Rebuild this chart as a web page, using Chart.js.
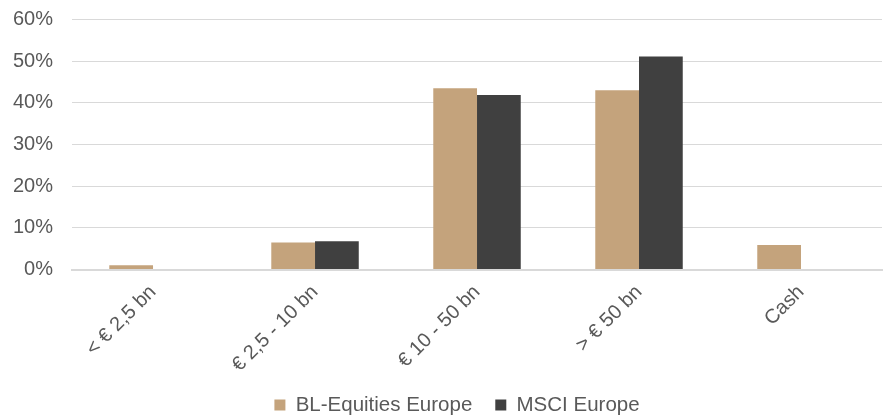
<!DOCTYPE html>
<html>
<head>
<meta charset="utf-8">
<script src="https://cdn.jsdelivr.net/npm/chart.js@4"></script>
<style>
  html, body { margin: 0; padding: 0; background: #fff; }
  #wrap { width: 883px; height: 418px; position: relative; }
</style>
</head>
<body>
<div id="wrap"><canvas id="chart"></canvas></div>
<script>
// Data
const categories = ['< € 2,5 bn', '€ 2,5 - 10 bn', '€ 10 - 50 bn', '> € 50 bn', 'Cash'];
const blEquities = [1.0, 6.5, 43.5, 43.0, 5.9];
const msciEurope = [0, 6.8, 41.9, 51.1, 0];
const yTicks = [0, 10, 20, 30, 40, 50, 60];

const textColor = '#595959';
const fontFamily = '"Liberation Sans", Arial, sans-serif';

// nudge the legend row to the right (Excel puts the swatch closer to its text)
const legendShift = {
  id: 'legendShift',
  afterLayout(chart) {
    chart.legend.left += 19;
    chart.legend.right += 19;
  }
};

const ctx = document.getElementById('chart').getContext('2d');
new Chart(ctx, {
  type: 'bar',
  data: {
    labels: categories,
    datasets: [
      {
        label: 'BL-Equities Europe',
        data: blEquities,
        backgroundColor: '#C4A37C',
        borderWidth: 0
      },
      {
        label: 'MSCI Europe',
        data: msciEurope,
        backgroundColor: '#404040',
        borderWidth: 0
      }
    ]
  },
  plugins: [legendShift],
  options: {
    responsive: true,
    maintainAspectRatio: false,
    animation: false,
    layout: { padding: { top: 19.5, right: 1, left: -6, bottom: 0 } },
    datasets: {
      bar: { categoryPercentage: 0.54, barPercentage: 1.0 }
    },
    plugins: {
      legend: {
        position: 'bottom',
        maxHeight: 46.25,
        labels: {
          boxWidth: 11,
          boxHeight: 11,
          padding: 23,
          color: textColor,
          font: { family: fontFamily, size: 20.5 }
        }
      },
      tooltip: { enabled: false }
    },
    scales: {
      y: {
        min: 0,
        max: 60,
        afterBuildTicks: axis => { axis.ticks = yTicks.map(v => ({ value: v })); },
        afterFit: axis => {
          axis.paddingTop = 0;
        },
        ticks: {
          color: textColor,
          font: { family: fontFamily, size: 20 },
          padding: 19,
          callback: v => v + '%'
        },
        grid: { color: '#d9d9d9', lineWidth: 1, drawTicks: false },
        border: { display: false }
      },
      x: {
        afterFit: axis => {
          // fixed axis band, labels allowed to run past it
          axis.height = 102.25;
          axis._computeLabelArea = () => undefined;
        },
        ticks: {
          color: textColor,
          font: { family: fontFamily, size: 20 },
          minRotation: 45,
          maxRotation: 45,
          padding: 3
        },
        grid: { display: false },
        border: { display: true, color: '#d9d9d9', width: 2 }
      }
    }
  }
});
</script>
</body>
</html>
